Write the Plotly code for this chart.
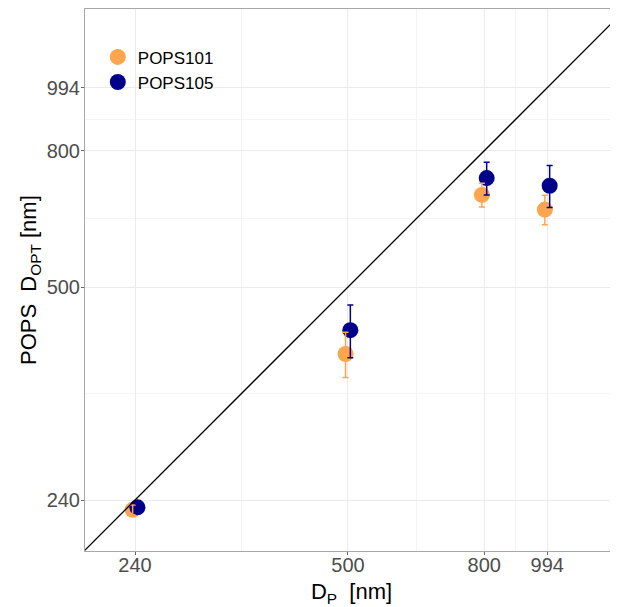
import numpy as np
import plotly.graph_objects as go

# ---- data ----
dp_nm = [240, 500, 800, 994]
pops101_dopt = [232, 397, 687, 653]
pops101_err = [4, 31, 28, 33]
pops105_dopt = [234, 431, 728, 709]
pops105_err = [3, 39, 41, 51]
tick_vals = [240, 500, 800, 994]
tick_text = ["240", "500", "800", "994"]
series_names = ["POPS101", "POPS105"]

# ---- style ----
ORANGE = "#FFA54F"
NAVY = "#00008B"
FONT = "Liberation Sans, Arial, sans-serif"
x_range_log = [2.3053, 3.1033]
y_range_log = [2.3039, 3.1152]
dodge = 10 ** (2.4 / 668)  # ~2.4 px horizontal dodge on the log axis

minor_vals = [float(np.sqrt(a * b)) for a, b in zip(tick_vals[:-1], tick_vals[1:])]

x101 = [v / dodge for v in dp_nm]
x105 = [v * dodge for v in dp_nm]

fig = go.Figure()
fig.add_trace(go.Scatter(x=x101, y=pops101_dopt, mode="markers", name=series_names[0],
                         marker=dict(color=ORANGE, size=16), showlegend=True))
fig.add_trace(go.Scatter(x=x105, y=pops105_dopt, mode="markers", name=series_names[1],
                         marker=dict(color=NAVY, size=16), showlegend=True))
fig.add_trace(go.Scatter(x=x101, y=pops101_dopt, mode="markers", showlegend=False,
                         marker=dict(color=ORANGE, size=1, opacity=0),
                         error_y=dict(type="data", array=pops101_err, color=ORANGE,
                                      thickness=1.5, width=3)))
fig.add_trace(go.Scatter(x=x105, y=pops105_dopt, mode="markers", showlegend=False,
                         marker=dict(color=NAVY, size=1, opacity=0),
                         error_y=dict(type="data", array=pops105_err, color=NAVY,
                                      thickness=1.5, width=3)))
lo = 10 ** min(x_range_log[0], y_range_log[0])
hi = 10 ** max(x_range_log[1], y_range_log[1])
fig.add_trace(go.Scatter(x=[lo, hi], y=[lo, hi], mode="lines", showlegend=False,
                         line=dict(color="black", width=1.3)))

axis_common = dict(
    type="log",
    tickmode="array",
    tickvals=tick_vals,
    ticktext=tick_text,
    ticks="outside",
    ticklen=3,
    tickcolor="#666666",
    tickfont=dict(family=FONT, size=20, color="#4D4D4D"),
    showgrid=True,
    gridcolor="#EBEBEB",
    gridwidth=1.1,
    minor=dict(tickmode="array", tickvals=minor_vals, showgrid=True,
               gridcolor="#F4F4F4", gridwidth=1, ticks=""),
    showline=True,
    linecolor="#A8A8A8",
    linewidth=1,
    mirror=True,
    zeroline=False,
)

# the page body adds an 8px margin around the figure
fig.update_layout(
    width=610, height=599,
    margin=dict(l=77, r=0, t=1, b=56),
    paper_bgcolor="white",
    plot_bgcolor="white",
    font=dict(family=FONT, color="black"),
    xaxis=dict(range=x_range_log, ticklabelstandoff=-7,
               title=dict(text="D<sub>P</sub>\u00a0 [nm]", font=dict(family=FONT, size=22, color="black"),
                          standoff=13),
               **axis_common),
    yaxis=dict(range=y_range_log, ticklabelstandoff=-3, **axis_common),
    legend=dict(x=0.024, y=0.944, xanchor="left", yanchor="top",
                font=dict(family=FONT, size=17, color="black"),
                bgcolor="rgba(255,255,255,0)", itemsizing="trace",
                tracegroupgap=0),
    annotations=[dict(text="POPS\u00a0 D<sub>OPT</sub> [nm]", xref="paper", yref="paper",
                      x=-0.1032, y=0.5, xanchor="center", yanchor="middle",
                      textangle=-90, showarrow=False,
                      font=dict(family=FONT, size=22, color="black"))],
)

fig.write_html("out.html")
